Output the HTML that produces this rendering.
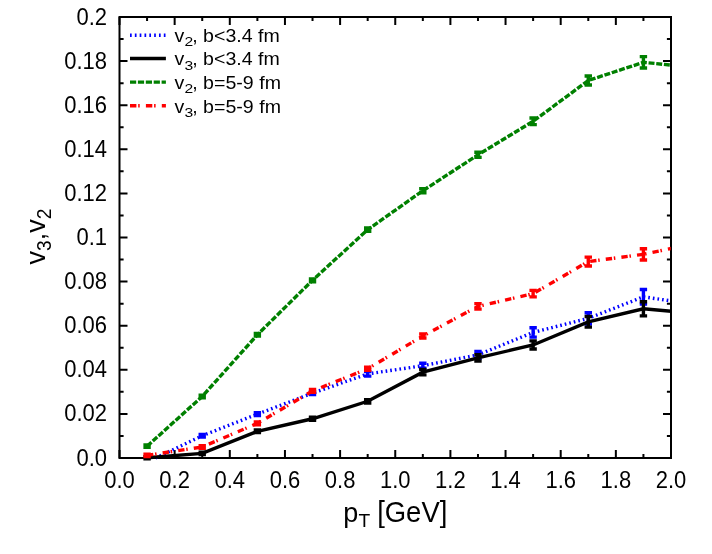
<!DOCTYPE html>
<html><head><meta charset="utf-8"><title>chart</title>
<style>
html,body{margin:0;padding:0;background:#fff;}
svg{display:block;}
text{font-family:"Liberation Sans",sans-serif;fill:#000;}
</style></head>
<body>
<svg width="712" height="554" viewBox="0 0 712 554">
<rect width="712" height="554" fill="#fff"/>
<defs><clipPath id="clip"><rect x="99.50" y="7.00" width="571.20" height="471.00"/></clipPath></defs>
<rect x="119.50" y="17.00" width="551.50" height="441.00" fill="none" stroke="#000" stroke-width="2.0"/>
<path d="M119.50,458.00 v-8.00 M119.50,17.00 v8.00 M147.07,458.00 v-4.10 M147.07,17.00 v4.10 M174.65,458.00 v-8.00 M174.65,17.00 v8.00 M202.23,458.00 v-4.10 M202.23,17.00 v4.10 M229.80,458.00 v-8.00 M229.80,17.00 v8.00 M257.38,458.00 v-4.10 M257.38,17.00 v4.10 M284.95,458.00 v-8.00 M284.95,17.00 v8.00 M312.52,458.00 v-4.10 M312.52,17.00 v4.10 M340.10,458.00 v-8.00 M340.10,17.00 v8.00 M367.68,458.00 v-4.10 M367.68,17.00 v4.10 M395.25,458.00 v-8.00 M395.25,17.00 v8.00 M422.83,458.00 v-4.10 M422.83,17.00 v4.10 M450.40,458.00 v-8.00 M450.40,17.00 v8.00 M477.98,458.00 v-4.10 M477.98,17.00 v4.10 M505.55,458.00 v-8.00 M505.55,17.00 v8.00 M533.12,458.00 v-4.10 M533.12,17.00 v4.10 M560.70,458.00 v-8.00 M560.70,17.00 v8.00 M588.28,458.00 v-4.10 M588.28,17.00 v4.10 M615.85,458.00 v-8.00 M615.85,17.00 v8.00 M643.43,458.00 v-4.10 M643.43,17.00 v4.10 M671.00,458.00 v-8.00 M671.00,17.00 v8.00 M119.50,458.00 h8.00 M671.00,458.00 h-8.00 M119.50,435.95 h4.10 M671.00,435.95 h-4.10 M119.50,413.90 h8.00 M671.00,413.90 h-8.00 M119.50,391.85 h4.10 M671.00,391.85 h-4.10 M119.50,369.80 h8.00 M671.00,369.80 h-8.00 M119.50,347.75 h4.10 M671.00,347.75 h-4.10 M119.50,325.70 h8.00 M671.00,325.70 h-8.00 M119.50,303.65 h4.10 M671.00,303.65 h-4.10 M119.50,281.60 h8.00 M671.00,281.60 h-8.00 M119.50,259.55 h4.10 M671.00,259.55 h-4.10 M119.50,237.50 h8.00 M671.00,237.50 h-8.00 M119.50,215.45 h4.10 M671.00,215.45 h-4.10 M119.50,193.40 h8.00 M671.00,193.40 h-8.00 M119.50,171.35 h4.10 M671.00,171.35 h-4.10 M119.50,149.30 h8.00 M671.00,149.30 h-8.00 M119.50,127.25 h4.10 M671.00,127.25 h-4.10 M119.50,105.20 h8.00 M671.00,105.20 h-8.00 M119.50,83.15 h4.10 M671.00,83.15 h-4.10 M119.50,61.10 h8.00 M671.00,61.10 h-8.00 M119.50,39.05 h4.10 M671.00,39.05 h-4.10 M119.50,17.00 h8.00 M671.00,17.00 h-8.00" stroke="#000" stroke-width="2.0" fill="none"/>
<path d="M130,35.20 H165.9" stroke="#0000ff" stroke-width="3.40" fill="none" stroke-dasharray="1.7 3.13"/>
<path d="M130,58.50 H165.9" stroke="#000" stroke-width="3.40" fill="none"/>
<path d="M130,82.10 H165.9" stroke="#008000" stroke-width="3.40" fill="none" stroke-dasharray="6.2 1.7"/>
<path d="M130,105.80 H165.9" stroke="#ff0000" stroke-width="3.40" fill="none" stroke-dasharray="6.4 1.8 1.5 6.2"/>
<g clip-path="url(#clip)">
<path d="M155.61,458.00 L202.22,435.73 L257.38,414.12 L312.52,393.17 L367.68,373.88 L422.83,365.70 L477.98,354.85 L533.12,332.40 L588.27,318.36 L643.42,296.81 L698.58,304.97" fill="none" stroke="#0000ff" stroke-width="3.40" stroke-linejoin="miter" stroke-dasharray="1.65 3.0"/>
<path d="M202.22,434.52 V436.94 M198.53,434.52 H205.92 M198.53,436.94 H205.92 M257.38,412.80 V415.44 M253.68,412.80 H261.07 M253.68,415.44 H261.07 M312.52,391.74 V394.61 M308.82,391.74 H316.22 M308.82,394.61 H316.22 M367.68,371.67 V376.08 M363.98,371.67 H371.38 M363.98,376.08 H371.38 M422.83,363.27 V368.12 M419.13,363.27 H426.53 M419.13,368.12 H426.53 M477.98,351.50 V358.20 M474.28,351.50 H481.68 M474.28,358.20 H481.68 M533.12,327.68 V337.12 M529.42,327.68 H536.83 M529.42,337.12 H536.83 M588.27,312.73 V323.98 M584.57,312.73 H591.98 M584.57,323.98 H591.98 M643.42,289.49 V304.14 M639.72,289.49 H647.12 M639.72,304.14 H647.12" fill="none" stroke="#0000ff" stroke-width="3.40"/>
<path d="M147.07,457.78 L202.22,453.37 L257.38,431.32 L312.52,418.75 L367.68,401.29 L422.83,372.20 L477.98,357.89 L533.12,344.95 L588.27,321.82 L643.42,308.81 L698.58,313.57" fill="none" stroke="#000000" stroke-width="3.40" stroke-linejoin="miter"/>
<path d="M147.07,456.68 V458.88 M143.38,456.68 H150.77 M143.38,458.88 H150.77 M202.22,452.16 V454.58 M198.53,452.16 H205.92 M198.53,454.58 H205.92 M257.38,430.00 V432.64 M253.68,430.00 H261.07 M253.68,432.64 H261.07 M312.52,417.32 V420.18 M308.82,417.32 H316.22 M308.82,420.18 H316.22 M367.68,399.61 V402.96 M363.98,399.61 H371.38 M363.98,402.96 H371.38 M422.83,369.56 V374.85 M419.13,369.56 H426.53 M419.13,374.85 H426.53 M477.98,354.72 V361.07 M474.28,354.72 H481.68 M474.28,361.07 H481.68 M533.12,340.87 V349.03 M529.42,340.87 H536.83 M529.42,349.03 H536.83 M588.27,316.53 V327.11 M584.57,316.53 H591.98 M584.57,327.11 H591.98 M643.42,301.75 V315.87 M639.72,301.75 H647.12 M639.72,315.87 H647.12" fill="none" stroke="#000000" stroke-width="3.40"/>
<path d="M147.07,446.20 L202.22,396.48 L257.38,334.74 L312.52,280.28 L367.68,229.69 L422.83,190.75 L477.98,154.81 L533.12,121.30 L588.27,80.50 L643.42,62.31 L698.58,67.83" fill="none" stroke="#008000" stroke-width="3.40" stroke-linejoin="miter" stroke-dasharray="5.95 1.75"/>
<path d="M147.07,444.99 V447.42 M143.38,444.99 H150.77 M143.38,447.42 H150.77 M202.22,395.27 V397.69 M198.53,395.27 H205.92 M198.53,397.69 H205.92 M257.38,333.42 V336.06 M253.68,333.42 H261.07 M253.68,336.06 H261.07 M312.52,278.84 V281.71 M308.82,278.84 H316.22 M308.82,281.71 H316.22 M367.68,228.06 V231.33 M363.98,228.06 H371.38 M363.98,231.33 H371.38 M422.83,188.81 V192.69 M419.13,188.81 H426.53 M419.13,192.69 H426.53 M477.98,152.30 V157.33 M474.28,152.30 H481.68 M474.28,157.33 H481.68 M533.12,117.94 V124.65 M529.42,117.94 H536.83 M529.42,124.65 H536.83 M588.27,76.03 V84.98 M584.57,76.03 H591.98 M584.57,84.98 H591.98 M643.42,56.67 V67.96 M639.72,56.67 H647.12 M639.72,67.96 H647.12" fill="none" stroke="#008000" stroke-width="3.40"/>
<path d="M147.07,455.35 L202.22,446.98 L257.38,423.38 L312.52,390.97 L367.68,368.76 L422.83,336.00 L477.98,306.38 L533.12,293.64 L588.27,261.56 L643.42,254.35 L698.58,242.57" fill="none" stroke="#ff0000" stroke-width="3.40" stroke-linejoin="miter" stroke-dasharray="6.34 1.78 1.49 6.14"/>
<path d="M147.07,454.25 V456.46 M143.38,454.25 H150.77 M143.38,456.46 H150.77 M202.22,445.76 V448.19 M198.53,445.76 H205.92 M198.53,448.19 H205.92 M257.38,422.06 V424.70 M253.68,422.06 H261.07 M253.68,424.70 H261.07 M312.52,389.53 V392.40 M308.82,389.53 H316.22 M308.82,392.40 H316.22 M367.68,367.13 V370.40 M363.98,367.13 H371.38 M363.98,370.40 H371.38 M422.83,334.01 V337.98 M419.13,334.01 H426.53 M419.13,337.98 H426.53 M477.98,303.67 V309.10 M474.28,303.67 H481.68 M474.28,309.10 H481.68 M533.12,290.40 V296.88 M529.42,290.40 H536.83 M529.42,296.88 H536.83 M588.27,257.15 V265.97 M584.57,257.15 H591.98 M584.57,265.97 H591.98 M643.42,248.70 V259.99 M639.72,248.70 H647.12 M639.72,259.99 H647.12" fill="none" stroke="#ff0000" stroke-width="3.40"/>
</g>
<g style="opacity:0.999"><text transform="translate(174.60,41.95) scale(1.0000,0.9700)" text-anchor="start" font-size="19.60">v</text>
<text transform="translate(184.40,46.35) scale(1.0000,0.8300)" text-anchor="start" font-size="15.70">2</text>
<text transform="translate(192.23,41.95) scale(1.0000,0.9700)" text-anchor="start" font-size="19.60">, b&lt;3.4 fm</text>
<text transform="translate(174.60,65.25) scale(1.0000,0.9700)" text-anchor="start" font-size="19.60">v</text>
<text transform="translate(184.40,69.65) scale(1.0000,0.8300)" text-anchor="start" font-size="15.70">3</text>
<text transform="translate(192.23,65.25) scale(1.0000,0.9700)" text-anchor="start" font-size="19.60">, b&lt;3.4 fm</text>
<text transform="translate(174.60,88.85) scale(1.0000,0.9700)" text-anchor="start" font-size="19.60">v</text>
<text transform="translate(184.40,93.25) scale(1.0000,0.8300)" text-anchor="start" font-size="15.70">2</text>
<text transform="translate(192.23,88.85) scale(1.0000,0.9700)" text-anchor="start" font-size="19.60">, b=5-9 fm</text>
<text transform="translate(174.60,112.55) scale(1.0000,0.9700)" text-anchor="start" font-size="19.60">v</text>
<text transform="translate(184.40,116.95) scale(1.0000,0.8300)" text-anchor="start" font-size="15.70">3</text>
<text transform="translate(192.23,112.55) scale(1.0000,0.9700)" text-anchor="start" font-size="19.60">, b=5-9 fm</text><text transform="translate(119.50,488.30) scale(1.0000,1.1150)" text-anchor="middle" font-size="22.00">0.0</text>
<text transform="translate(174.65,488.30) scale(1.0000,1.1150)" text-anchor="middle" font-size="22.00">0.2</text>
<text transform="translate(229.80,488.30) scale(1.0000,1.1150)" text-anchor="middle" font-size="22.00">0.4</text>
<text transform="translate(284.95,488.30) scale(1.0000,1.1150)" text-anchor="middle" font-size="22.00">0.6</text>
<text transform="translate(340.10,488.30) scale(1.0000,1.1150)" text-anchor="middle" font-size="22.00">0.8</text>
<text transform="translate(395.25,488.30) scale(1.0000,1.1150)" text-anchor="middle" font-size="22.00">1.0</text>
<text transform="translate(450.40,488.30) scale(1.0000,1.1150)" text-anchor="middle" font-size="22.00">1.2</text>
<text transform="translate(505.55,488.30) scale(1.0000,1.1150)" text-anchor="middle" font-size="22.00">1.4</text>
<text transform="translate(560.70,488.30) scale(1.0000,1.1150)" text-anchor="middle" font-size="22.00">1.6</text>
<text transform="translate(615.85,488.30) scale(1.0000,1.1150)" text-anchor="middle" font-size="22.00">1.8</text>
<text transform="translate(671.00,488.30) scale(1.0000,1.1150)" text-anchor="middle" font-size="22.00">2.0</text>
<text transform="translate(107.00,465.50) scale(1.0000,1.1150)" text-anchor="end" font-size="22.00">0.0</text>
<text transform="translate(107.00,421.40) scale(1.0000,1.1150)" text-anchor="end" font-size="22.00">0.02</text>
<text transform="translate(107.00,377.30) scale(1.0000,1.1150)" text-anchor="end" font-size="22.00">0.04</text>
<text transform="translate(107.00,333.20) scale(1.0000,1.1150)" text-anchor="end" font-size="22.00">0.06</text>
<text transform="translate(107.00,289.10) scale(1.0000,1.1150)" text-anchor="end" font-size="22.00">0.08</text>
<text transform="translate(107.00,245.00) scale(1.0000,1.1150)" text-anchor="end" font-size="22.00">0.1</text>
<text transform="translate(107.00,200.90) scale(1.0000,1.1150)" text-anchor="end" font-size="22.00">0.12</text>
<text transform="translate(107.00,156.80) scale(1.0000,1.1150)" text-anchor="end" font-size="22.00">0.14</text>
<text transform="translate(107.00,112.70) scale(1.0000,1.1150)" text-anchor="end" font-size="22.00">0.16</text>
<text transform="translate(107.00,68.60) scale(1.0000,1.1150)" text-anchor="end" font-size="22.00">0.18</text>
<text transform="translate(107.00,24.50) scale(1.0000,1.1150)" text-anchor="end" font-size="22.00">0.2</text>
<text transform="translate(343.20,522.00)" text-anchor="start" font-size="27.00">p</text>
<text transform="translate(358.41,527.00)" text-anchor="start" font-size="19.20">T</text>
<text transform="translate(377.15,522.00) scale(1.0170,1.0600)" text-anchor="start" font-size="27.00">[GeV]</text>
<text transform="translate(44.80,264.50) rotate(-90)" text-anchor="start" font-size="27.00">v</text>
<text transform="translate(50.70,251.00) rotate(-90) scale(1.0000,1.0500)" text-anchor="start" font-size="19.20">3</text>
<text transform="translate(44.80,240.32) rotate(-90)" text-anchor="start" font-size="27.00">,v</text>
<text transform="translate(50.70,219.32) rotate(-90) scale(1.0000,1.0500)" text-anchor="start" font-size="19.20">2</text></g>
</svg>
</body></html>
